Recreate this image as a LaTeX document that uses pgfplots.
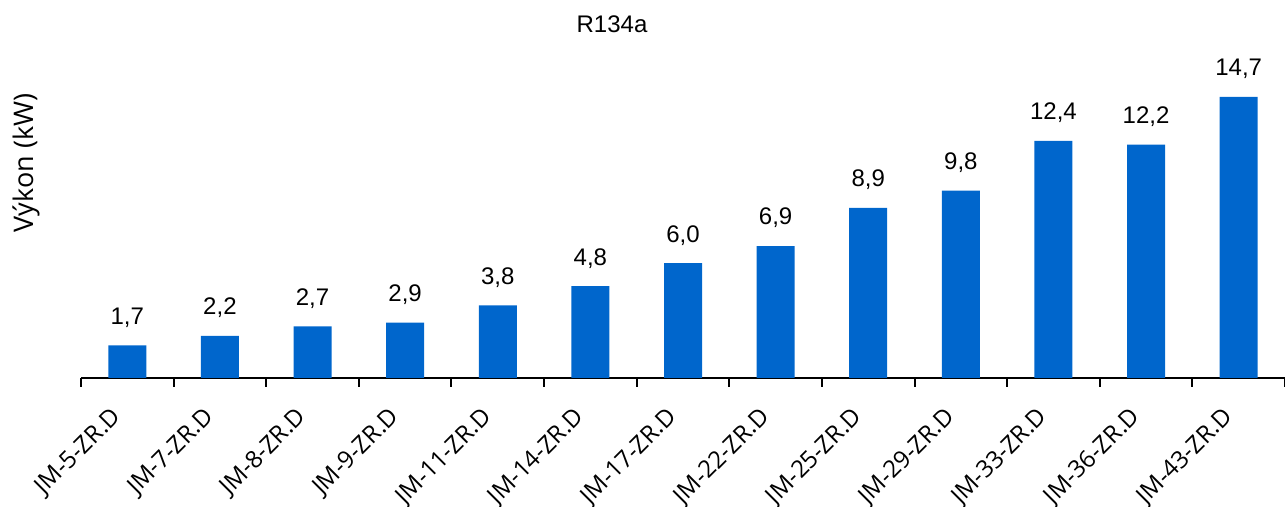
\documentclass[border=0pt]{standalone}
\usepackage{pgfplots}
\pgfplotsset{compat=1.18}
\usepackage{fontspec}
\setmainfont{Liberation Sans}
\newfontfamily\ylfont{Open Sans}
\definecolor{barblue}{HTML}{0066CC}
\begin{document}
\begin{tikzpicture}
\useasboundingbox (0,0) rectangle (642.5pt,253.5pt);
\begin{axis}[
  at={(40.5pt,64.5pt)}, anchor=south west,
  scale only axis, width=602pt, height=153pt,
  xmin=-0.5, xmax=12.5, ymin=0, ymax=16,
  axis x line*=bottom, axis y line=none,
  axis line style={line width=1pt, black},
  ybar, bar width=19pt,
  xtick={0,...,12},
  xticklabels={JM-5-ZR.D,JM-7-ZR.D,JM-8-ZR.D,JM-9-ZR.D,JM-11-ZR.D,JM-14-ZR.D,JM-17-ZR.D,JM-22-ZR.D,JM-25-ZR.D,JM-29-ZR.D,JM-33-ZR.D,JM-36-ZR.D,JM-43-ZR.D},
  major tick length=0pt,
  major x tick style={draw=none},
  minor xtick={-0.5,0.5,...,12.5},
  minor tick length=4.5pt,
  minor x tick style={line width=1pt, black},
  tick align=outside,
  xticklabel style={rotate=45, anchor=east, font=\ylfont\fontsize{12}{14}\selectfont, inner sep=0pt, xshift=-15.8pt, yshift=-9.1pt},
  nodes near coords, point meta=y,
  nodes near coords style={font=\fontsize{12}{14}\selectfont, anchor=south, yshift=5.5pt,
    /pgf/number format/.cd, fixed, fixed zerofill, precision=1, use comma, assume math mode=true},
  enlargelimits=false, clip=false,
]
\addplot[fill=barblue, draw=none] coordinates {
(0,1.7) (1,2.2) (2,2.7) (3,2.9) (4,3.8) (5,4.8) (6,6.0) (7,6.9) (8,8.9) (9,9.8) (10,12.4) (11,12.2) (12,14.7)};
\end{axis}
\node[font=\fontsize{12}{14}\selectfont] at (306pt,241.5pt) {R134a};
\node[font=\ylfont\fontsize{13.5}{15}\selectfont, rotate=90] at (13pt,172pt) {Výkon (kW)};
\end{tikzpicture}
\end{document}
